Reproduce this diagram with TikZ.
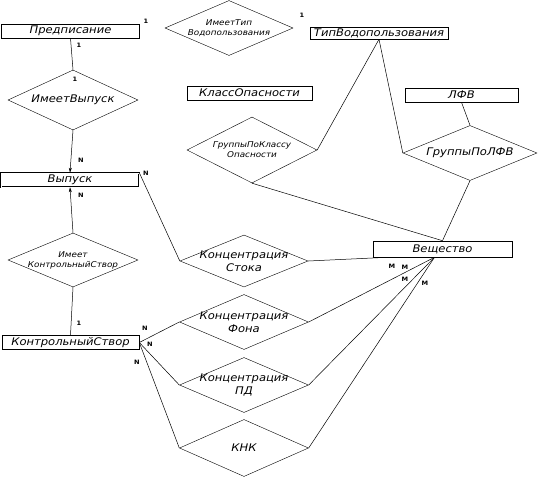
\documentclass[tikz,border=0pt]{standalone}
\usepackage{fontspec}
\setmainfont{DejaVu Sans}[FakeStretch=1.1]
\usetikzlibrary{positioning,arrows.meta,shapes.geometric}

\begin{document}
\begin{tikzpicture}[
 x=1pt, y=-1pt,
 entity/.style={rectangle, draw, line width=0.6pt, inner sep=0pt, minimum height=14pt, font=\fontsize{10.5}{12}\selectfont\itshape},
 rel/.style={diamond, draw, line width=0.4pt, inner sep=-40pt, minimum width=130pt, minimum height=55pt, align=center, font=\fontsize{10.5}{13}\selectfont\itshape},
 smallrel/.style={rel, font=\fontsize{8}{10}\selectfont\itshape},
 line/.style={line width=0.5pt},
 arrow/.style={line width=0.5pt, -{Stealth[length=5pt,width=3pt]}},
 card/.style={font=\fontsize{6}{7}\selectfont\bfseries, inner sep=0pt}
 ]
 \useasboundingbox (0,0) rectangle (547,477);

 % Entities
 \node[entity, minimum width=138pt] (predpis) at (70.5,31) {Предписание};
 \node[entity, minimum width=138pt, double, double distance=1pt] (vypusk) at (70,180) {Выпуск};
 \node[entity, minimum width=137pt] (kstvor) at (70.5,342.5) {КонтрольныйСтвор};
 \node[entity, minimum width=138pt, minimum height=12pt] (tipvod) at (379,33) {ТипВодопользования};
 \node[entity, minimum width=125pt] (klass) at (249.5,93) {КлассОпасности};
 \node[entity, minimum width=113pt] (lfv) at (461.5,95) {ЛФВ};
 \node[entity, minimum width=139pt, minimum height=16pt] (vesh) at (442.5,249) {Вещество};

 % Relationships
 \node[smallrel, minimum width=128pt] (imtip) at (229,28) {ИмеетТип\\Водопользования};
 \node[rel, minimum height=60pt] (imvyp) at (73,100) {ИмеетВыпуск};
 \node[smallrel, minimum height=54pt] (imstvor) at (73,260) {Имеет\\КонтрольныйСтвор};
 \node[smallrel, minimum height=66pt] (grklass) at (252,150) {ГруппыПоКлассу\\Опасности};
 \node[rel, minimum width=134pt] (grlfv) at (470,153) {ГруппыПоЛФВ};
 \node[rel, minimum width=128pt, minimum height=52pt] (kstok) at (244,261) {Концентрация\\Стока};
 \node[rel, minimum width=129pt] (kfon) at (244,322) {Концентрация\\Фона};
 \node[rel, minimum width=129pt] (kpd) at (244,385) {Концентрация\\ПД};
 \node[rel, minimum width=129pt, minimum height=57pt] (knk) at (244,448) {КНК};

 % Cardinalities
 \node[card] (c1) at (146,21) {1};
 \node[card] (c2) at (79,45) {1};
 \node[card] (c3) at (75,79) {1};
 \node[card] (c4) at (302,15) {1};
 \node[card] (c5) at (81,160) {N};
 \node[card] (c6) at (81,195) {N};
 \node[card] (c7) at (146,173) {N};
 \node[card] (c8) at (79,323) {1};
 \node[card] (c9) at (145,328) {N};
 \node[card] (c10) at (150,344) {N};
 \node[card] (c11) at (137,362) {N};
 \node[card] (c12) at (392,266) {M};
 \node[card] (c13) at (405,267) {M};
 \node[card] (c14) at (405,279) {M};
 \node[card] (c15) at (425,283) {M};

 % Links of Выпуск
 \draw[line] (predpis.south) -- (imvyp.north);
 \draw[arrow] (imvyp.south) -- (vypusk.north);
 \draw[arrow] (imstvor.north) -- (vypusk.south);
 \draw[line] (imstvor.south) -- (kstvor.north);
 \draw[line] (vypusk.north east) -- (kstok.west);
 \draw[line] (kstok.east) -- ([xshift=15pt]vesh.south west);

 % Links of КонтрольныйСтвор
 \draw[line] (kstvor.east) -- (kfon.west);
 \draw[line] (kstvor.east) -- (kpd.west);
 \draw[line] (kstvor.east) -- (knk.west);
 \draw[line] (kfon.east) -- ([xshift=-8pt]vesh.south);
 \draw[line] (kpd.east) -- ([xshift=-8pt]vesh.south);
 \draw[line] (knk.east) -- ([xshift=-8pt]vesh.south);

 % Links of Вещество
 \draw[line] (tipvod.south) -- (grklass.east);
 \draw[line] (tipvod.south) -- (grlfv.west);
 \draw[line] (lfv.south) -- (grlfv.north);
 \draw[line] (grklass.south) -- (vesh.north);
 \draw[line] (grlfv.south) -- (vesh.north);
\end{tikzpicture}
\end{document}
